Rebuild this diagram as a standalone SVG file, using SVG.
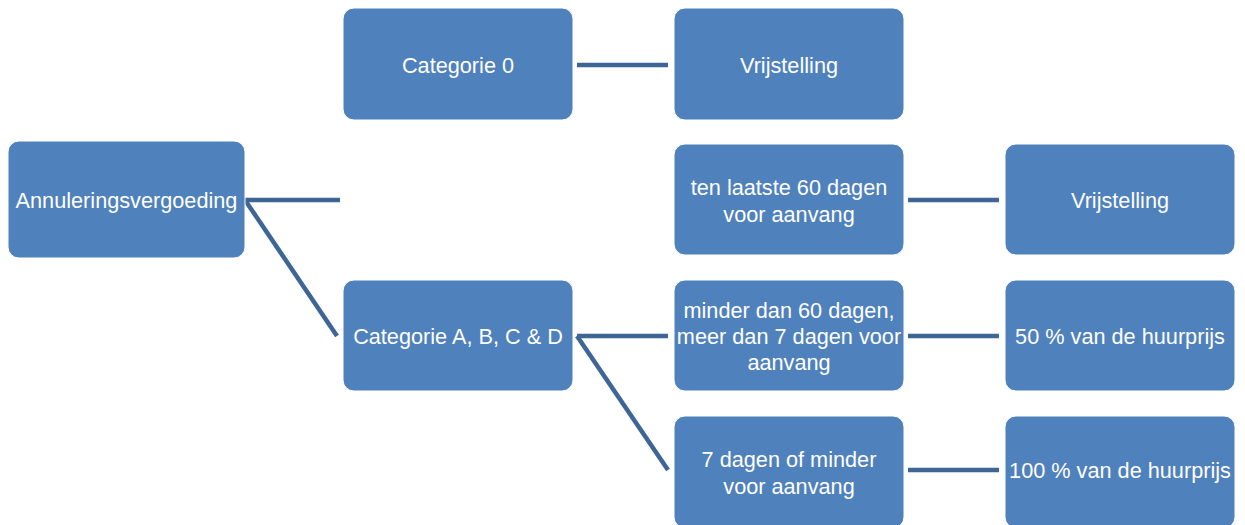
<svg xmlns="http://www.w3.org/2000/svg" width="1245" height="525" viewBox="0 0 1245 525">
<style>
.box{fill:#4F81BD;stroke:#ffffff;stroke-width:1}
.t{font-family:"Liberation Sans",Arial,sans-serif;font-size:21.7px;fill:#ffffff;text-anchor:middle}
.c{stroke:#3D6696;stroke-width:4.5;stroke-linecap:butt;fill:none}
</style>
<rect width="1245" height="525" fill="#ffffff"/>
<g id="connectors">
<line class="c" x1="245" y1="200" x2="340" y2="200"/>
<line class="c" x1="245" y1="200" x2="337" y2="336"/>
<line class="c" x1="577" y1="65" x2="668" y2="65"/>
<line class="c" x1="908" y1="200" x2="999" y2="200"/>
<line class="c" x1="577" y1="336" x2="668" y2="336"/>
<line class="c" x1="577" y1="336" x2="668" y2="470"/>
<line class="c" x1="908" y1="336" x2="999" y2="336"/>
<line class="c" x1="908" y1="470" x2="999" y2="470"/>
</g>
<g id="n-annulering">
<rect class="box" x="8" y="141" width="237" height="117" rx="11"/>
<text class="t" x="126.5" y="208">Annuleringsvergoeding</text>
</g>
<g id="n-cat0">
<rect class="box" x="343" y="8" width="230" height="112" rx="11"/>
<text class="t" x="458" y="73">Categorie 0</text>
</g>
<g id="n-vrij1">
<rect class="box" x="674" y="8" width="230" height="112" rx="11"/>
<text class="t" x="789" y="73">Vrijstelling</text>
</g>
<g id="n-tenlaatste">
<rect class="box" x="674" y="144" width="230" height="111" rx="11"/>
<text class="t" x="789" y="195">ten laatste 60 dagen</text>
<text class="t" x="789" y="222">voor aanvang</text>
</g>
<g id="n-vrij2">
<rect class="box" x="1005" y="144" width="230" height="111" rx="11"/>
<text class="t" x="1120" y="208">Vrijstelling</text>
</g>
<g id="n-catA">
<rect class="box" x="343" y="280" width="230" height="111" rx="11"/>
<text class="t" x="458" y="344">Categorie A, B, C &amp; D</text>
</g>
<g id="n-minder">
<rect class="box" x="674" y="280" width="230" height="111" rx="11"/>
<text class="t" x="789" y="318">minder dan 60 dagen,</text>
<text class="t" x="789" y="344">meer dan 7 dagen voor</text>
<text class="t" x="789" y="370">aanvang</text>
</g>
<g id="n-50">
<rect class="box" x="1005" y="280" width="230" height="111" rx="11"/>
<text class="t" x="1120" y="344">50 % van de huurprijs</text>
</g>
<g id="n-7dagen">
<rect class="box" x="674" y="416" width="230" height="112" rx="11"/>
<text class="t" x="789" y="467">7 dagen of minder</text>
<text class="t" x="789" y="494">voor aanvang</text>
</g>
<g id="n-100">
<rect class="box" x="1005" y="416" width="230" height="112" rx="11"/>
<text class="t" x="1120" y="478">100 % van de huurprijs</text>
</g>
</svg>
